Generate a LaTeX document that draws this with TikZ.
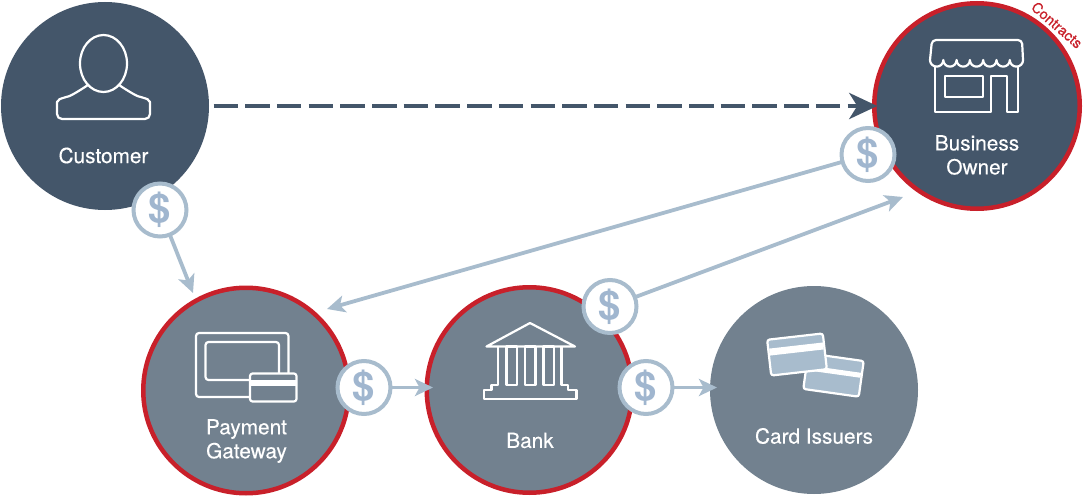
\documentclass[tikz,border=0pt]{standalone}
\usepackage{fontspec}
\setmainfont{TeX Gyre Heros}
\usetikzlibrary{arrows.meta}
\definecolor{darkslate}{HTML}{44566A}
\definecolor{midslate}{HTML}{72818F}
\definecolor{contractred}{HTML}{C8202A}
\definecolor{paleblue}{HTML}{A8BCCD}
\definecolor{dollarblue}{HTML}{A0B6CF}
\begin{document}
\begin{tikzpicture}[x=1pt,y=-1pt,
party/.style n args={1}{circle,fill=#1,inner sep=0pt,outer sep=0pt,minimum size=208pt},
contract/.style={circle,draw=contractred,line width=4.5pt,inner sep=0pt,outer sep=0pt,minimum size=205.5pt},
partyname/.style={text=white,align=center,font=\fontsize{20.8}{24}\selectfont\addfontfeature{FakeBold=0.25}},
dollar/.style={circle,draw=paleblue,line width=4pt,fill=white,inner sep=0pt,outer sep=0pt,minimum size=53pt,text=dollarblue,font=\fontsize{40}{40}\selectfont\bfseries},
payline/.style={draw=paleblue,line width=3.8pt,-{Stealth[length=18pt,width=17pt,inset=4.5pt]}},
glyph/.style={draw=white,line width=2.2pt,line join=round}]
\useasboundingbox (0,0) rectangle (1084,500);
% parties
\node[party=darkslate] (customer) at (105,106) {};
\node[party=darkslate,contract] (owner) at (977,106) {};
\node[party=midslate,contract] (gateway) at (246,390.5) {};
\node[party=midslate,contract] (bank) at (529.5,390) {};
\node[party=midslate] (issuers) at (814,390) {};
\node[partyname] (customerlabel) at (103.5,155.5) {Customer};
\node[partyname] (ownerlabel) at (977,155) {Business\\Owner};
\node[partyname] (gatewaylabel) at (246.5,441) {Payment\\Gateway};
\node[partyname] (banklabel) at (530,440.5) {Bank};
\node[partyname] (issuerslabel) at (814,436) {Card Issuers};
\node[text=contractred,rotate=-41,inner sep=0pt,font=\fontsize{14.5}{16}\selectfont\addfontfeature{FakeBold=0.25}] (contracts) at (1057,25) {Contracts};
% customer glyph
\draw[glyph] (103.5,63.5) ellipse (23.5 and 28.5);
\draw[glyph,rounded corners=5pt] (88,85) .. controls (76,93) and (70,96) .. (64,97.5)
  .. controls (60,99) and (57,102) .. (57,107) -- (57,119) -- (150,119) -- (150,107)
  .. controls (150,102) and (147,99) .. (143,97.5) .. controls (137,96) and (131,93) .. (119,85);
% shop glyph
\draw[glyph,rounded corners=4pt] (930,60) -- (932,40) -- (1022,40) -- (1023,60);
\draw[glyph] (930,60) \foreach \s in {0,...,6} {arc (180:0:6.65)};
\draw[glyph] (935,66) -- (935,112) -- (991,112) -- (991,76) -- (1007,76) -- (1007,112) -- (1018,112) -- (1018,66);
\draw[glyph] (945,76) rectangle (983,97);
% terminal glyph
\draw[glyph,rounded corners=3pt] (250,397) -- (196,397) -- (196,333) -- (288.5,333) -- (288.5,373);
\draw[glyph,rounded corners=3pt] (205.5,342) rectangle (279,380);
\draw[glyph,fill=midslate,rounded corners=2.5pt] (250,373.5) rectangle (296.5,401.5);
\fill[white] (250,380) rectangle (296.5,386);
% bank glyph
\draw[glyph,miter limit=20] (486.5,346.5) -- (530,323) -- (575,346.5) -- cycle;
\draw[glyph] (498,346.5) -- (498,385) -- (491.5,385) -- (491.5,390) -- (484,390) -- (484,399) -- (576.5,399) -- (576.5,390) -- (568,390) -- (568,385) -- (561.5,385) -- (561.5,346.5);
\foreach \x in {506.5,525,543.5} {
   \draw[glyph] (\x,346.5) rectangle (\x+10.5,385);
}
% card glyphs
\begin{scope}[shift={(833.5,375)},rotate=-8]
\draw[draw=white,line width=2.2pt,fill=paleblue,rounded corners=2.5pt] (-28,-18) rectangle (28,18);
\fill[white] (-27,-6) rectangle (27,-1);
\end{scope}
\begin{scope}[shift={(797,354.5)},rotate=6.5]
\draw[draw=white,line width=2.2pt,fill=paleblue,rounded corners=2.5pt] (-28,-18) rectangle (28,18);
\fill[white] (-27,-9) rectangle (27,-2);
\end{scope}
% payments
\node[dollar] (customerpay) at (160,210) {\$};
\node[dollar] (ownerpay) at (868,154.5) {\$};
\node[dollar] (gatewaypay) at (364,387.5) {\$};
\node[dollar] (bankpay) at (610,306.5) {\$};
\node[dollar] (issuerpay) at (646,387.5) {\$};
\coordinate (gatewayin) at (193,293);
\coordinate (gatewayback) at (327,309);
\coordinate (ownerin) at (903,197);
\coordinate (bankin) at (433,387.5);
\coordinate (issuersin) at (717,387.5);
\draw[darkslate,line width=4.2pt,dash pattern=on 24.5pt off 7.2pt,shorten <=4.5pt,shorten >=-3pt,-{Stealth[length=28pt,width=26pt,inset=8pt]}] (customer) -- (owner);
\draw[payline] (customerpay) -- (gatewayin);
\draw[payline] (ownerpay) -- (gatewayback);
\draw[payline] (bankpay) -- (ownerin);
\draw[payline] (gatewaypay) -- (bankin);
\draw[payline] (issuerpay) -- (issuersin);
\end{tikzpicture}
\end{document}
